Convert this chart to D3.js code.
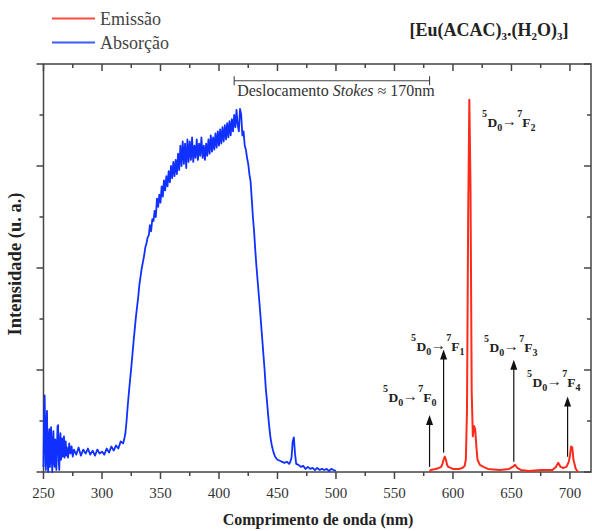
<!DOCTYPE html>
<html><head><meta charset="utf-8">
<script src="https://cdn.jsdelivr.net/npm/d3@7"></script>
<style>body{margin:0;background:#fff}svg{display:block}</style>
</head><body>
<svg id="c" width="592" height="531"></svg>
<script>
// ---------- data (wavelength nm, intensity a.u.) ----------
const absorption = [
[250,0.05],[250.5,0.55],[251,0.75],[251.5,0.3],[252,0.02],[252.5,0.45],[253,0.6],[253.5,0.1],[254,0.0],[254.5,0.35],
[255,0.42],[255.5,0.05],[256,0.2],[256.5,0.44],[257,0.15],[257.5,0.0],[258,0.3],[258.5,0.4],[259,0.1],[259.5,0.05],
[260,0.32],[260.5,0.22],[261,0.02],[261.5,0.25],[262,0.45],[262.5,0.46],[263,0.1],[263.5,0.02],[264,0.3],[264.5,0.38],
[265,0.12],[265.5,0.18],[266,0.33],[266.5,0.15],[267,0.25],[267.5,0.35],[268,0.14],[268.5,0.2],[269,0.3],[269.5,0.16],
[270,0.24],[271,0.14],[272,0.28],[273,0.18],[274,0.25],[275,0.15],[276,0.22],
[278,0.17],[280,0.24],[282,0.16],[284,0.22],[286,0.18],[288,0.23],[290,0.17],[292,0.21],[294,0.16],[296,0.22],
[298,0.18],[300,0.2],[302,0.17],[304,0.23],[306,0.19],[308,0.25],[310,0.21],[312,0.26],[314,0.23],[316,0.3],[318,0.28],
[319,0.32],[320,0.38],[321,0.5],[322,0.65],[323,0.78],[324,0.9],[325,1.02],[326,1.15],[327,1.28],[328,1.4],
[329,1.52],[330,1.62],[331,1.72],[332,1.84],[333,1.92],[334,2.0],[335,2.06],[336,2.12],[337,2.2],[338,2.24],
[339,2.3],[340,2.32],[341,2.42],[342,2.36],[343,2.48],[344,2.46],[345,2.56],[346,2.5],[347,2.68],[348,2.6],
[349,2.72],[350,2.64],[351,2.8],[352,2.7],[353,2.86],[354,2.76],[355,2.9],[356,2.8],[357,2.95],[358,2.84],
[359,3.0],[360,2.88],[361,3.04],[362,2.9],[363,3.06],[364,2.92],[365,3.12],[366,2.96],[367,3.2],[368,3.0],
[369,3.24],[370,3.02],[371,3.22],[372,2.98],[373,3.26],[374,3.04],[375,3.24],[376,3.06],[377,3.28],[378,3.04],
[379,3.2],[380,3.08],[381,3.26],[382,3.06],[383,3.22],[384,3.1],[385,3.28],[386,3.08],[387,3.2],[388,3.06],
[389,3.22],[390,3.1],[391,3.26],[392,3.12],[393,3.3],[394,3.14],[395,3.28],[396,3.16],[397,3.32],[398,3.18],
[399,3.34],[400,3.2],[401,3.36],[402,3.22],[403,3.38],[404,3.24],[405,3.4],[406,3.26],[407,3.42],[408,3.28],
[409,3.44],[410,3.3],[411,3.46],[412,3.34],[413,3.5],[414,3.38],[415,3.55],[416,3.4],[417,3.34],[418,3.56],
[419,3.5],[420,3.3],[421,3.34],[422,3.2],[423,3.16],[424,3.08],[425,3.02],[426,2.92],[427,2.85],[428,2.68],
[429,2.5],[430,2.36],[431,2.18],[432,2.02],[433,1.88],[434,1.74],[435,1.6],[436,1.45],[437,1.3],[438,1.15],
[439,1.0],[440,0.82],[441,0.7],[442,0.56],[443,0.44],[444,0.34],[445,0.27],[446,0.22],[447,0.18],[448,0.15],
[450,0.12],[452,0.11],[454,0.1],[456,0.09],[458,0.1],[460,0.08],[461,0.1],[462,0.14],[463,0.3],[464,0.34],
[465,0.18],[466,0.08],[468,0.07],[470,0.05],[472,0.06],[474,0.03],[476,0.05],[478,0.03],[480,0.04],[482,0.02],
[484,0.04],[486,0.02],[488,0.03],[490,0.02],[492,0.03],[494,0.01],[496,0.03],[498,0.02],[500,0.01]
];
const emission = [
[580,0.0],[581,0.02],[585,0.03],[588,0.04],[590,0.05],[591,0.08],[592,0.12],[593,0.15],[594,0.12],[595,0.07],
[596,0.05],[600,0.03],[605,0.03],[608,0.04],[610,0.06],[611,0.12],[612,0.6],[613,2.5],[614,3.65],[615,2.8],
[616,0.8],[617,0.35],[618,0.45],[619,0.42],[620,0.25],[621,0.12],[623,0.07],[626,0.05],[630,0.03],[640,0.02],
[648,0.03],[651,0.05],[653,0.07],[655,0.04],[658,0.02],[665,0.01],[675,0.02],[685,0.02],[688,0.05],[690,0.09],
[692,0.05],[694,0.04],[697,0.05],[699,0.1],[700,0.16],[701,0.25],[702,0.24],[703,0.12],[705,0.03],[707,0.0]
];
const xTickValues = [250,300,350,400,450,500,550,600,650,700];
const seriesNames = ["Emissão","Absorção"];
const transitions = [
  {sub:"0", nm:580, tip:0.56, base:0.05},
  {sub:"1", nm:592, tip:1.2,  base:0.19},
  {sub:"2", nm:null},
  {sub:"3", nm:652, tip:1.1,  base:0.1},
  {sub:"4", nm:698, tip:0.74, base:0.15}
];
const stokes = {from:413, to:580, level:3.836};

// ---------- layout ----------
const labelPos = [[383,402],[411,351],[482,127],[484,352],[527,387]];
const svg = d3.select("#c");
const L=43.5, R=591, T=64, B=472;
const x = d3.scaleLinear().domain([250,718]).range([L,R]);
const y = d3.scaleLinear().domain([0,4]).range([B,T]);
const serif = "'Liberation Serif','Times New Roman',serif";
const txt = "#333";

// axes
const minorX = d3.range(275,720,50);
const yMaj = [0,1,2,3,4], yMin = [0.5,1.5,2.5,3.5];
const ax = svg.append("g").attr("stroke","#444").attr("stroke-width",1.5).attr("fill","none");
ax.append("rect").attr("x",L).attr("y",T).attr("width",R-L).attr("height",B-T);
xTickValues.forEach(v=>{
  ax.append("line").attr("x1",x(v)).attr("x2",x(v)).attr("y1",B).attr("y2",B+7);
  ax.append("line").attr("x1",x(v)).attr("x2",x(v)).attr("y1",T).attr("y2",T+7);
});
minorX.filter(v=>v<718).forEach(v=>{
  ax.append("line").attr("x1",x(v)).attr("x2",x(v)).attr("y1",B).attr("y2",B+4);
  ax.append("line").attr("x1",x(v)).attr("x2",x(v)).attr("y1",T).attr("y2",T+4);
});
yMaj.forEach(v=>{
  ax.append("line").attr("x1",L-7).attr("x2",L).attr("y1",y(v)).attr("y2",y(v));
  ax.append("line").attr("x1",R-7).attr("x2",R).attr("y1",y(v)).attr("y2",y(v));
});
yMin.forEach(v=>{
  ax.append("line").attr("x1",L-4).attr("x2",L).attr("y1",y(v)).attr("y2",y(v));
  ax.append("line").attr("x1",R-4).attr("x2",R).attr("y1",y(v)).attr("y2",y(v));
});
svg.append("g").selectAll("text").data(xTickValues).join("text")
  .attr("x",d=>x(d)).attr("y",498).attr("text-anchor","middle")
  .attr("font-family",serif).attr("font-size",15).attr("fill",txt).text(d=>d);

// axis titles
svg.append("text").attr("x",318).attr("y",525).attr("text-anchor","middle")
  .attr("font-family",serif).attr("font-weight","bold").attr("font-size",16).attr("fill","#222")
  .text("Comprimento de onda (nm)");
svg.append("text").attr("transform","translate(21,264) rotate(-90)").attr("text-anchor","middle")
  .attr("font-family",serif).attr("font-weight","bold").attr("font-size",18.5).attr("fill","#222")
  .text("Intensidade (u. a.)");

// series
const line = d3.line().x(d=>x(d[0])).y(d=>y(d[1]));
svg.append("path").datum(absorption).attr("d",line).attr("fill","none")
  .attr("stroke","#1030ff").attr("stroke-width",1.8).attr("stroke-linejoin","round");
svg.append("path").datum(emission).attr("d",line).attr("fill","none")
  .attr("stroke","#ff2a1a").attr("stroke-width",2).attr("stroke-linejoin","round");

// arrows
const ag = svg.append("g");
transitions.filter(t=>t.nm!==null).forEach(t=>{
  const xx = x(t.nm), yt = y(t.tip), yb = y(t.base);
  ag.append("line").attr("x1",xx).attr("x2",xx).attr("y1",yb).attr("y2",yt+6)
    .attr("stroke","#111").attr("stroke-width",1.2);
  ag.append("path").attr("d",`M${xx},${yt}L${xx-3.5},${yt+10}L${xx+3.5},${yt+10}Z`).attr("fill","#111");
});

// transition labels
transitions.forEach((t,i)=>{
  const [lx,ly] = labelPos[i];
  const tx = svg.append("text").attr("x",lx).attr("y",ly)
    .attr("font-family",serif).attr("font-weight","bold").attr("fill","#222");
  tx.append("tspan").attr("font-size",10).attr("y",ly-10).text("5");
  tx.append("tspan").attr("font-size",13.5).attr("dx",0.5).attr("y",ly).text("D");
  tx.append("tspan").attr("font-size",10).attr("y",ly+4).text("0");
  tx.append("tspan").attr("font-size",15).attr("y",ly-1).attr("dx",-0.5).text("→");
  tx.append("tspan").attr("font-size",10).attr("y",ly-10).attr("dx",0.5).text("7");
  tx.append("tspan").attr("font-size",13.5).attr("y",ly).text("F");
  tx.append("tspan").attr("font-size",10).attr("y",ly+4).attr("dx",0).text(t.sub);
});

// Stokes bar
const sg = svg.append("g").attr("stroke","#444").attr("stroke-width",1.1);
const sy = y(stokes.level);
sg.append("line").attr("x1",x(stokes.from)).attr("x2",x(stokes.to)).attr("y1",sy).attr("y2",sy);
[stokes.from,stokes.to].forEach(v=>sg.append("line").attr("x1",x(v)).attr("x2",x(v)).attr("y1",sy-4.5).attr("y2",sy+4.5));
const st = svg.append("text").attr("x",336).attr("y",96).attr("text-anchor","middle")
  .attr("font-family",serif).attr("font-size",16).attr("fill",txt);
st.append("tspan").text("Deslocamento ");
st.append("tspan").attr("font-style","italic").text("Stokes");
st.append("tspan").text(" ≈ 170nm");

// title
const ti = svg.append("text").attr("x",489).attr("y",36).attr("text-anchor","middle")
  .attr("font-family",serif).attr("font-weight","bold").attr("font-size",18).attr("fill","#222");
ti.append("tspan").text("[Eu(ACAC)");
ti.append("tspan").attr("font-size",11).attr("dy",4).text("3");
ti.append("tspan").attr("dy",-4).text(".(H");
ti.append("tspan").attr("font-size",11).attr("dy",4).text("2");
ti.append("tspan").attr("dy",-4).text("O)");
ti.append("tspan").attr("font-size",11).attr("dy",4).text("3");
ti.append("tspan").attr("dy",-4).text("]");

// legend
const legColors = ["#ff4a40","#3a5cff"];
seriesNames.forEach((n,i)=>{
  const ly = 18.5 + i*24;
  svg.append("line").attr("x1",52).attr("x2",95).attr("y1",ly).attr("y2",ly)
    .attr("stroke",legColors[i]).attr("stroke-width",2);
  svg.append("text").attr("x",100).attr("y",ly+6).attr("font-family",serif)
    .attr("font-size",18).attr("fill","#444").text(n);
});
</script>
</body></html>
